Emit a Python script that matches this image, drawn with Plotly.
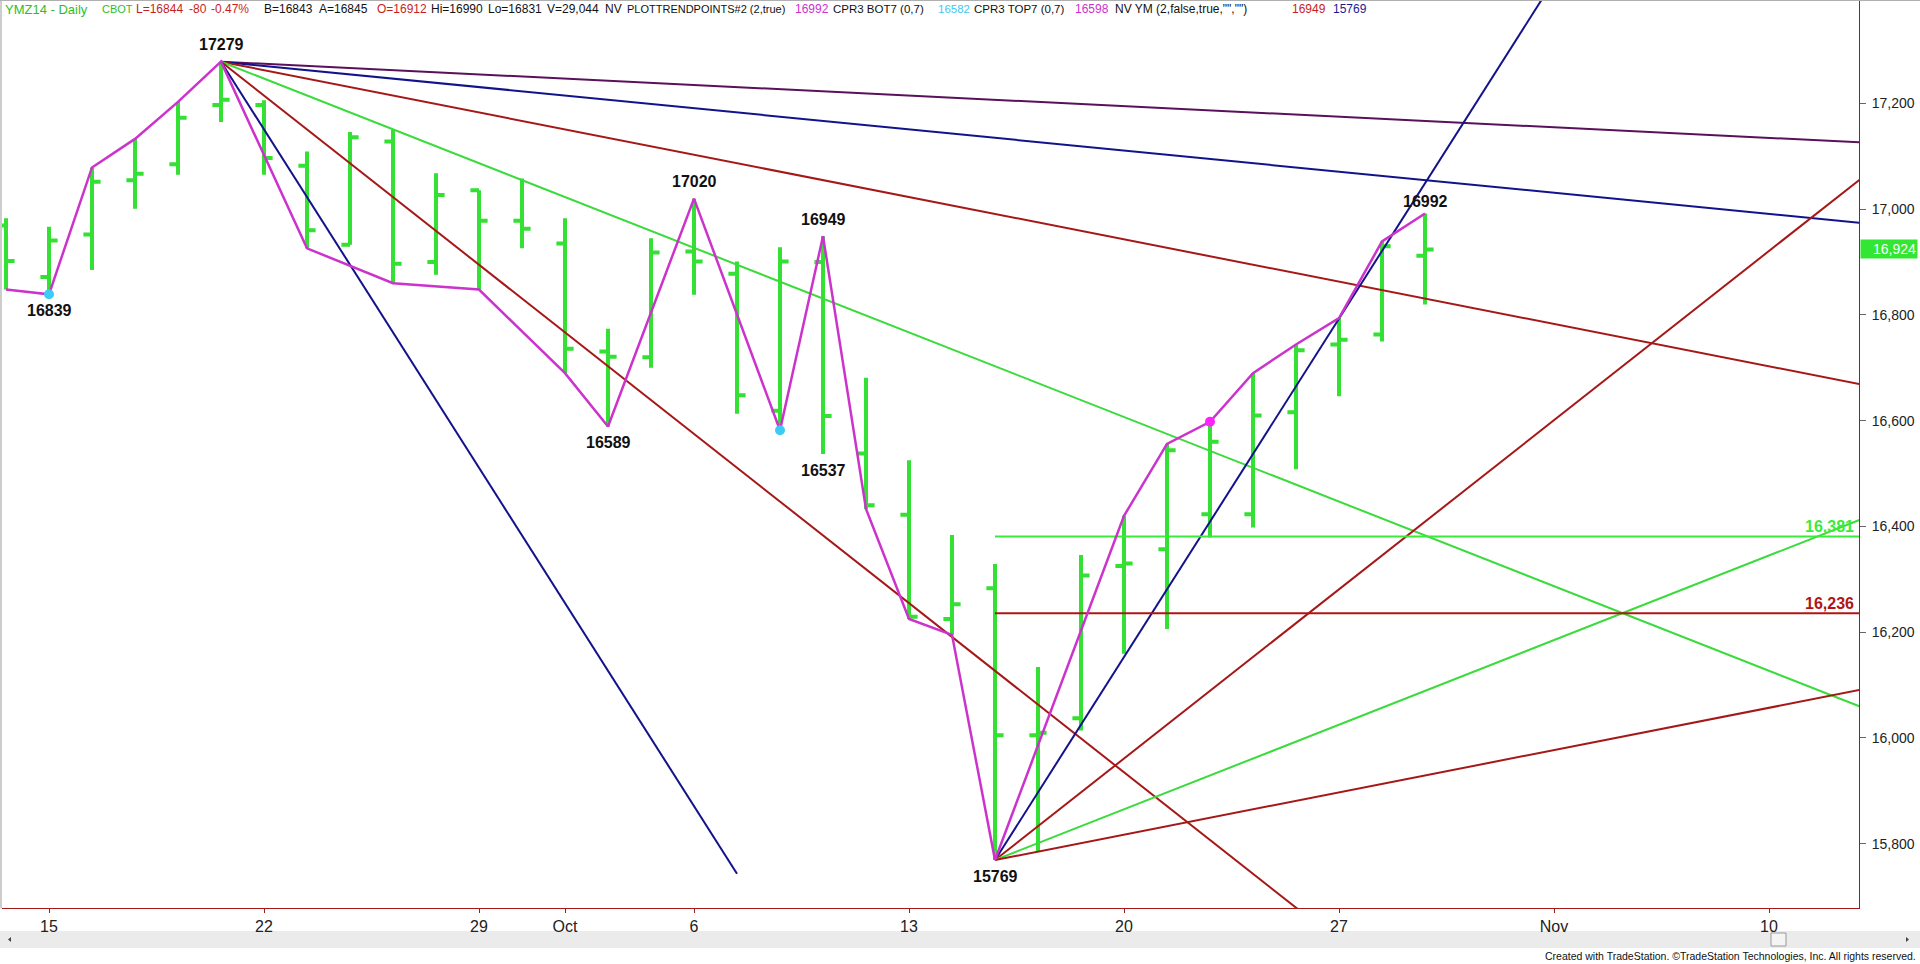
import plotly.graph_objects as go

# ---------------- data ----------------
# trading-day index: 0 = Mon Sep 15 2014
days = list(range(-1, 33))
opens = [16969, 16872, 16952, 17055, 17085, 17197, 17197, 17082, 16933, 17128,
         16900, 17036, 16978, 16935, 16731, 16720, 16920, 16878, 16619, 16900,
         16538, 16422, 16225, 16283, 16005, 16037, 16325, 16357, 16423, 16423,
         16616, 16744, 16763, 16912]
highs = [16983, 16967, 17079, 17133, 17203, 17279, 17206, 17109, 17146, 17150,
         17068, 17036, 17058, 16983, 16774, 16945, 17020, 16901, 16928, 16949,
         16681, 16525, 16384, 16329, 16134, 16346, 16420, 16556, 16598, 16690,
         16744, 16794, 16939, 16992]
lows = [16848, 16839, 16885, 17001, 17065, 17165, 17065, 16926, 16933, 16860,
        16876, 16848, 16926, 16690, 16589, 16700, 16838, 16613, 16582, 16537,
        16433, 16225, 16195, 15769, 15786, 16014, 16159, 16206, 16379, 16398,
        16508, 16646, 16750, 16820]
closes = [16902, 16941, 17052, 17067, 17173, 17207, 17097, 16960, 17136, 16897,
          17027, 16978, 16963, 16736, 16721, 16918, 16901, 16648, 16901, 16609,
          16440, 16229, 16253, 16005, 16010, 16307, 16330, 16544, 16560, 16610,
          16733, 16753, 16930, 16924]

swing_days = [-1, 0, 1, 2, 3, 4, 6, 8, 10, 12, 13, 15, 17, 18, 19, 20, 21, 22,
              25, 26, 27, 28, 29, 30, 31, 32]
swing_prices = [16848, 16839, 17079, 17133, 17203, 17279, 16926, 16860, 16848,
                16690, 16589, 17020, 16582, 16949, 16433, 16225, 16195, 15769,
                16420, 16556, 16598, 16690, 16744, 16794, 16939, 16992]

cyan_dot_days = [0, 17]
cyan_dot_prices = [16839, 16582]
magenta_dot_days = [27]
magenta_dot_prices = [16598]

pivot_label_days = [4, 0, 15, 18, 13, 18, 22, 32]
pivot_label_prices = [17279, 16839, 17020, 16949, 16589, 16537, 15769, 16992]
pivot_label_shift = [17, -16, 17, 17, -16, -16, -16, 12]

peak_day, peak_price = 4, 17279
peak_fan_slopes = [-4, -8, -16, -32, -64, -128]
peak_fan_colors = ["#5A105A", "#12128A", "#A51818", "#3ADB3A", "#A51818", "#12128A"]
peak_fan_end_days = [42.2, 42.2, 42.2, 42.2, 42.2, 16.0]

low_day, low_price = 22, 15769
low_fan_slopes = [128, 64, 32, 16]
low_fan_colors = ["#12128A", "#A51818", "#3ADB3A", "#A51818"]
low_fan_end_days = [42.2, 42.2, 42.2, 42.2]

level_prices = [16381, 16236]
level_labels = ["16,381", "16,236"]
level_colors = ["#3AEB3A", "#B01515"]

last_price = 16924

x_tick_days = [0, 5, 10, 12, 15, 20, 25, 30, 35, 40]
x_tick_text = ["15", "22", "29", "Oct", "6", "13", "20", "27", "Nov", "10"]
y_ticks = [15800, 16000, 16200, 16400, 16600, 16800, 17000, 17200]

header_px = [4, 101, 135, 188, 210, 263, 318, 376, 430, 487, 546, 604, 626, 794,
             832, 937, 973, 1074, 1114, 1291, 1332]
header_text = ["YMZ14 - Daily", "CBOT", "L=16844", "-80", "-0.47%", "B=16843",
               "A=16845", "O=16912", "Hi=16990", "Lo=16831", "V=29,044", "NV",
               "PLOTTRENDPOINTS#2 (2,true)", "16992", "CPR3 BOT7 (0,7)", "16582",
               "CPR3 TOP7 (0,7)", "16598", 'NV YM (2,false,true,"","")', "16949",
               "15769"]
header_colors = ["#2DBE2D", "#2DBE2D", "#C81E1E", "#C81E1E", "#C81E1E", "#111111",
                 "#111111", "#C81E1E", "#111111", "#111111", "#111111", "#111111",
                 "#111111", "#D030D0", "#111111", "#40C8F0", "#111111", "#D030D0",
                 "#111111", "#C81E1E", "#1A1A90"]
header_sizes = [13, 11, 12, 12, 12, 12, 12, 12, 12, 12, 12, 12, 11, 12, 11.5, 11.5,
                11.5, 12, 12, 12, 12]

# ---------------- layout geometry ----------------
W, H = 1920, 964
ML, MR, MT, MB = 2, 61, 0, 56
PW = W - ML - MR
PH = H - MT - MB
X0, X1 = -1.093, 42.093
Y0, Y1 = 15678.3, 17395.7

GREEN = "#33E033"
DARKRED = "#A51818"


def px2x(px):
    return (px - ML) / PW


def py2y(py):
    return (MT + PH - py) / PH


fig = go.Figure()

fig.add_trace(go.Ohlc(
    x=days, open=opens, high=highs, low=lows, close=closes,
    increasing=dict(line=dict(color=GREEN, width=4)),
    decreasing=dict(line=dict(color=GREEN, width=4)),
    tickwidth=0.2, hoverinfo="skip", showlegend=False,
))

for s, c, e in zip(peak_fan_slopes, peak_fan_colors, peak_fan_end_days):
    fig.add_trace(go.Scatter(
        x=[peak_day, e], y=[peak_price, peak_price + s * (e - peak_day)],
        mode="lines", line=dict(color=c, width=2), hoverinfo="skip", showlegend=False))

for s, c, e in zip(low_fan_slopes, low_fan_colors, low_fan_end_days):
    fig.add_trace(go.Scatter(
        x=[low_day, e], y=[low_price, low_price + s * (e - low_day)],
        mode="lines", line=dict(color=c, width=2), hoverinfo="skip", showlegend=False))

for p, c in zip(level_prices, level_colors):
    fig.add_trace(go.Scatter(
        x=[low_day, X1], y=[p, p], mode="lines", line=dict(color=c, width=2),
        hoverinfo="skip", showlegend=False))

fig.add_trace(go.Scatter(
    x=swing_days, y=swing_prices, mode="lines",
    line=dict(color="#CC33CC", width=2.5), hoverinfo="skip", showlegend=False))

fig.add_trace(go.Scatter(
    x=cyan_dot_days, y=cyan_dot_prices, mode="markers",
    marker=dict(color="#3CCBF5", size=10), hoverinfo="skip", showlegend=False))
fig.add_trace(go.Scatter(
    x=magenta_dot_days, y=magenta_dot_prices, mode="markers",
    marker=dict(color="#FF22FF", size=10), hoverinfo="skip", showlegend=False))

annotations = []
for d, p, sh in zip(pivot_label_days, pivot_label_prices, pivot_label_shift):
    annotations.append(dict(
        x=d, y=p, xref="x", yref="y", text="<b>%d</b>" % p, showarrow=False,
        font=dict(family="Liberation Sans, Arial", size=16, color="#111111"),
        yshift=sh, xanchor="center", yanchor="middle"))

for p, t, c in zip(level_prices, level_labels, level_colors):
    annotations.append(dict(
        x=1, y=p, xref="paper", yref="y", text="<b>%s</b>" % t, showarrow=False,
        font=dict(family="Liberation Sans, Arial", size=16, color=c),
        xanchor="right", yanchor="middle", xshift=-3, yshift=10))

annotations.append(dict(
    x=px2x(1889), y=last_price, xref="paper", yref="y", text="{:,}".format(last_price),
    showarrow=False, font=dict(family="Liberation Sans, Arial", size=14, color="white"),
    bgcolor="#33E633", xanchor="center", yanchor="middle", width=54,
    align="right", borderpad=1))

for px, t, c, fs in zip(header_px, header_text, header_colors, header_sizes):
    annotations.append(dict(
        x=px2x(px), y=py2y(9), xref="paper", yref="paper", text=t, showarrow=False,
        font=dict(family="Liberation Sans, Arial", size=fs, color=c),
        xanchor="left", yanchor="middle", borderpad=0))

annotations.append(dict(
    x=px2x(1917), y=py2y(956), xref="paper", yref="paper",
    text="Created with TradeStation. \u00a9TradeStation Technologies, Inc. All rights reserved.",
    showarrow=False,
    font=dict(family="Liberation Sans, Arial", size=10.5, color="#111111"),
    xanchor="right", yanchor="middle", borderpad=0))

shapes = [
    # scrollbar band
    dict(type="rect", xref="paper", yref="paper", x0=px2x(0), x1=px2x(1920),
         y0=py2y(948), y1=py2y(931), fillcolor="#EBEBEB", line=dict(width=0), layer="below"),
    # scrollbar thumb
    dict(type="rect", xref="paper", yref="paper", x0=px2x(1771), x1=px2x(1786),
         y0=py2y(946), y1=py2y(933), fillcolor="#F4F4F4", line=dict(color="#9A9A9A", width=1)),
    # arrows
    dict(type="path", xref="paper", yref="paper",
         path="M %f %f L %f %f L %f %f Z" % (px2x(8), py2y(939.5), px2x(11), py2y(937),
                                            px2x(11), py2y(942)),
         fillcolor="#444444", line=dict(width=0)),
    dict(type="path", xref="paper", yref="paper",
         path="M %f %f L %f %f L %f %f Z" % (px2x(1909), py2y(939.5), px2x(1906), py2y(937),
                                            px2x(1906), py2y(942)),
         fillcolor="#444444", line=dict(width=0)),
    # left border
    dict(type="line", xref="paper", yref="paper", x0=px2x(1), x1=px2x(1),
         y0=py2y(0), y1=py2y(908), line=dict(color="#9A9A9A", width=1)),
    # top border
    dict(type="line", xref="paper", yref="paper", x0=px2x(0), x1=px2x(1920),
         y0=py2y(0.5), y1=py2y(0.5), line=dict(color="#B0B0B0", width=1)),
]

fig.update_layout(
    width=W, height=H,
    margin=dict(l=ML, r=MR, t=MT, b=MB, pad=0),
    paper_bgcolor="white", plot_bgcolor="white",
    showlegend=False,
    font=dict(family="Liberation Sans, Arial", color="#222222"),
    annotations=annotations, shapes=shapes,
    xaxis=dict(
        range=[X0, X1], tickmode="array", tickvals=x_tick_days, ticktext=x_tick_text,
        showgrid=False, zeroline=False, showline=True, linecolor=DARKRED, linewidth=1,
        ticks="outside", ticklen=4, tickcolor=DARKRED,
        tickfont=dict(family="Liberation Sans, Arial", size=16, color="#222222"),
        rangeslider=dict(visible=False), fixedrange=True,
    ),
    yaxis=dict(
        range=[Y0, Y1], side="right", tickmode="array", tickvals=y_ticks,
        tickformat=",", showgrid=False, zeroline=False, showline=True,
        linecolor=DARKRED, linewidth=1, ticks="outside", ticklen=6, tickcolor="#666666",
        tickfont=dict(family="Liberation Sans, Arial", size=14, color="#222222"),
        ticklabelstandoff=3, fixedrange=True,
    ),
)

fig.write_html("out.html",
               config={"displayModeBar": False},
               post_script="document.body.style.margin='0px';document.body.style.overflow='hidden';")
